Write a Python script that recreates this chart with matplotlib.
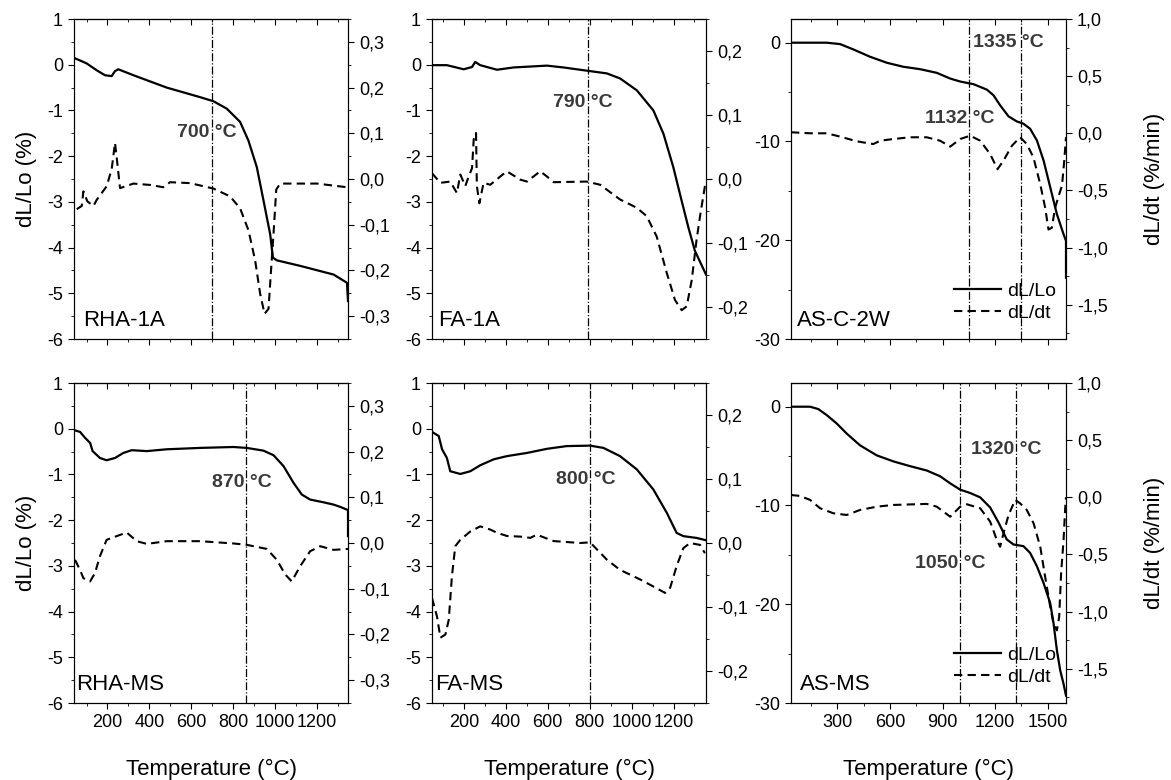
import matplotlib
matplotlib.use("Agg")
import matplotlib.pyplot as plt
from matplotlib.ticker import MultipleLocator, FuncFormatter

plt.rcParams['font.family'] = ['Liberation Sans', 'DejaVu Sans']
plt.rcParams['axes.unicode_minus'] = False

# ---- RHA-1A ----
rha1a_T = [40, 100, 148, 188, 220, 236, 252, 324, 483, 643, 707, 770, 834, 874, 914,
           946, 978, 991, 1010, 1121, 1281, 1345, 1350]
rha1a_dL = [0.15, 0.03, -0.12, -0.23, -0.25, -0.14, -0.10, -0.23, -0.50, -0.71, -0.80, -0.96,
            -1.25, -1.66, -2.24, -2.97, -3.71, -4.22, -4.28, -4.40, -4.59, -4.77, -5.17]
rha1a_Tr = [53, 77, 85, 104, 133, 148, 196, 220, 236, 247, 260, 324, 404, 467, 499, 595, 707,
            786, 834, 874, 906, 930, 951, 970, 981, 994, 1007, 1026, 1201, 1345]
rha1a_rate = [-0.066, -0.059, -0.027, -0.049, -0.059, -0.046, -0.016, 0.021, 0.079, 0.035,
              -0.020, -0.010, -0.013, -0.018, -0.007, -0.009, -0.021, -0.038, -0.064, -0.112,
              -0.178, -0.251, -0.295, -0.284, -0.207, -0.119, -0.023, -0.010, -0.010, -0.018]

# ---- FA-1A ----
fa1a_T = [48, 119, 199, 239, 254, 278, 358, 437, 596, 675, 786, 882, 945, 1025, 1104, 1152,
          1199, 1239, 1271, 1302, 1355]
fa1a_dL = [-0.01, -0.01, -0.10, -0.05, 0.06, -0.01, -0.11, -0.06, -0.02, -0.06, -0.13, -0.19,
           -0.30, -0.56, -1.00, -1.51, -2.24, -2.98, -3.56, -4.07, -4.59]
fa1a_Tr = [48, 88, 135, 167, 183, 207, 223, 239, 247, 258, 262, 274, 294, 326, 374, 405, 469,
           501, 564, 596, 628, 786, 850, 945, 1025, 1072, 1120, 1168, 1207, 1239, 1263, 1287,
           1310, 1329, 1350, 1355]
fa1a_rate = [0.009, -0.006, -0.004, -0.022, 0.007, -0.011, 0.004, 0.017, 0.062, 0.072, -0.011,
             -0.038, -0.006, -0.009, 0.004, 0.012, -0.001, -0.004, 0.012, 0.004, -0.005, -0.004,
             -0.009, -0.032, -0.045, -0.058, -0.090, -0.147, -0.189, -0.205, -0.199, -0.158,
             -0.095, -0.053, -0.011, -0.006]

# ---- AS-C-2W ----
asc_T = [35, 144, 239, 315, 391, 486, 582, 677, 772, 867, 944, 1001, 1077, 1153, 1191, 1229,
         1277, 1324, 1362, 1400, 1439, 1477, 1515, 1553, 1591, 1605, 1605]
asc_dL = [0.0, 0.0, 0.0, -0.14, -0.68, -1.42, -2.03, -2.44, -2.68, -3.05, -3.63, -3.93, -4.20,
          -4.75, -5.32, -6.34, -7.46, -7.97, -8.20, -8.71, -9.90, -11.93, -14.64, -17.36,
          -19.39, -20.07, -23.8]
asc_Tr = [35, 144, 239, 315, 410, 467, 505, 544, 620, 715, 810, 886, 944, 1001, 1058, 1115,
          1172, 1214, 1248, 1296, 1343, 1381, 1419, 1458, 1486, 1505, 1524, 1543, 1566, 1582,
          1595, 1605]
asc_rate = [0.009, 0.0, 0.0, -0.029, -0.070, -0.085, -0.094, -0.065, -0.050, -0.035, -0.035,
            -0.065, -0.117, -0.050, -0.021, -0.065, -0.182, -0.314, -0.240, -0.109, -0.035,
            -0.094, -0.211, -0.446, -0.651, -0.842, -0.827, -0.651, -0.534, -0.460, -0.240,
            -0.035]

# ---- RHA-MS ----
rhams_T = [40, 69, 93, 117, 129, 164, 196, 236, 276, 316, 388, 483, 643, 802, 866, 946, 994,
           1042, 1089, 1129, 1169, 1233, 1281, 1313, 1350, 1350]
rhams_dL = [-0.03, -0.07, -0.20, -0.31, -0.49, -0.64, -0.69, -0.64, -0.53, -0.47, -0.49, -0.45,
            -0.42, -0.40, -0.42, -0.48, -0.58, -0.82, -1.18, -1.44, -1.55, -1.61, -1.66, -1.71,
            -1.78, -2.35]
rhams_Tr = [45, 69, 85, 117, 140, 164, 196, 244, 292, 340, 388, 483, 643, 802, 866, 962, 1010,
            1050, 1081, 1121, 1169, 1217, 1281, 1350]
rhams_rate = [-0.037, -0.059, -0.077, -0.084, -0.066, -0.029, 0.007, 0.015, 0.023, 0.004,
              -0.002, 0.004, 0.004, -0.001, -0.004, -0.013, -0.037, -0.069, -0.084, -0.051,
              -0.018, -0.007, -0.015, -0.013]

# ---- FA-MS ----
fams_T = [48, 80, 96, 119, 135, 183, 231, 278, 342, 405, 501, 596, 691, 802, 866, 945, 1025,
          1104, 1168, 1215, 1247, 1311, 1355]
fams_dL = [-0.07, -0.16, -0.45, -0.64, -0.93, -0.99, -0.93, -0.80, -0.67, -0.60, -0.53, -0.44,
           -0.38, -0.37, -0.42, -0.60, -0.89, -1.33, -1.84, -2.28, -2.35, -2.39, -2.44]
fams_Tr = [48, 72, 88, 112, 128, 143, 159, 183, 231, 278, 326, 358, 405, 469, 517, 548, 628,
           755, 802, 882, 945, 1041, 1104, 1160, 1184, 1215, 1247, 1279, 1327, 1350]
fams_rate = [-0.086, -0.115, -0.148, -0.143, -0.120, -0.052, -0.005, 0.005, 0.018, 0.026,
             0.021, 0.016, 0.011, 0.010, 0.008, 0.013, 0.003, 0.0, 0.001, -0.026, -0.042,
             -0.057, -0.068, -0.078, -0.070, -0.036, -0.008, 0.0, -0.003, -0.016]

# ---- AS-MS ----
asms_T = [35, 144, 191, 239, 296, 353, 429, 525, 620, 715, 810, 886, 944, 1001, 1058, 1115,
          1172, 1220, 1267, 1305, 1362, 1400, 1439, 1477, 1515, 1534, 1553, 1572, 1591, 1605]
asms_dL = [0.0, 0.0, -0.24, -0.85, -1.70, -2.72, -3.91, -4.93, -5.54, -6.02, -6.46, -7.04,
           -7.76, -8.40, -8.74, -9.18, -10.2, -11.73, -13.44, -13.95, -14.12, -14.80, -16.16,
           -17.86, -19.90, -21.94, -24.66, -26.70, -28.06, -29.25]
asms_Tr = [35, 86, 144, 201, 277, 353, 429, 525, 620, 810, 867, 944, 1001, 1039, 1115, 1172,
           1210, 1229, 1248, 1277, 1315, 1343, 1381, 1420, 1458, 1486, 1515, 1534, 1553, 1566,
           1577, 1591, 1601, 1605]
asms_rate = [0.020, 0.012, -0.023, -0.096, -0.140, -0.155, -0.111, -0.082, -0.067, -0.058,
             -0.082, -0.170, -0.082, -0.061, -0.096, -0.213, -0.374, -0.433, -0.316, -0.155,
             -0.023, -0.053, -0.111, -0.228, -0.433, -0.696, -0.959, -1.105, -1.164, -1.047,
             -0.667, -0.374, -0.082, 0.0]

names = ['RHA-1A', 'FA-1A', 'AS-C-2W', 'RHA-MS', 'FA-MS', 'AS-MS']
vlines = [[700], [790], [1052, 1347], [863], [802], [1001, 1321]]
notes = [[('700 °C', 676, -1.48)], [('790 °C', 767, -0.82)],
         [('1335 °C', 1275, 0.0), ('1132 °C', 1001, -7.7)],
         [('870 °C', 844, -1.17)], [('800 °C', 781, -1.12)],
         [('1320 °C', 1264, -4.3), ('1050 °C', 944, -15.9)]]

data = [(rha1a_T, rha1a_dL, rha1a_Tr, rha1a_rate), (fa1a_T, fa1a_dL, fa1a_Tr, fa1a_rate),
        (asc_T, asc_dL, asc_Tr, asc_rate), (rhams_T, rhams_dL, rhams_Tr, rhams_rate),
        (fams_T, fams_dL, fams_Tr, fams_rate), (asms_T, asms_dL, asms_Tr, asms_rate)]

# layout (pixels) and axis settings per column
lefts = [74, 432, 791]
widths = [274, 274, 275]
tops = [19, 383]
H = 320
xlims = [(40, 1350), (48, 1355), (35, 1605)]
xmaj = [200, 200, 300]
ylims = [(-6, 1), (-6, 1), (-30, 2.4)]
ymaj = [1, 1, 10]
rlims = [(-0.35, 0.35), (-0.25, 0.25), (-1.8, 1.0)]
rmaj = [0.1, 0.1, 0.5]
label_x = [0.033, 0.022, 0.022, 0.007, 0.011, 0.033]

comma = FuncFormatter(lambda v, p: ('%.1f' % v).replace('.', ',').replace('-0,0', '0,0'))

fig = plt.figure(figsize=(11.71, 7.80), dpi=100)
W, Hf = 1171, 780

for i in range(6):
    r, c = divmod(i, 3)
    ax = fig.add_axes([lefts[c] / W, 1 - (tops[r] + H) / Hf, widths[c] / W, H / Hf])
    ax2 = ax.twinx()
    T, dL, Tr, rate = data[i]
    l1, = ax.plot(T, dL, color='black', lw=1.6)
    l2, = ax2.plot(Tr, rate, color='black', lw=1.5, dashes=(4, 2.5))
    for v in vlines[i]:
        ax.axvline(v, color='black', lw=0.9, ls='-.')
    for txt, tx, ty in notes[i]:
        ax.text(tx, ty, txt, ha='center', va='center', fontsize=14, fontweight='bold',
                color='#3a3a3a')
    ax.text(label_x[i], 0.025, names[i], transform=ax.transAxes, fontsize=16, va='bottom')

    ax.set_xlim(*xlims[c])
    ax.set_ylim(*ylims[c])
    ax2.set_ylim(*rlims[c])
    ax.xaxis.set_major_locator(MultipleLocator(xmaj[c]))
    ax.xaxis.set_minor_locator(MultipleLocator(xmaj[c] / 2))
    ax.yaxis.set_major_locator(MultipleLocator(ymaj[c]))
    ax.yaxis.set_minor_locator(MultipleLocator(ymaj[c] / 2))
    ax2.yaxis.set_major_locator(MultipleLocator(rmaj[c]))
    ax2.yaxis.set_minor_locator(MultipleLocator(rmaj[c] / 2))
    ax2.yaxis.set_major_formatter(comma)

    ax.tick_params(which='both', direction='out', labelsize=13, top=False)
    ax.tick_params(which='major', length=4.5)
    ax.tick_params(which='minor', length=2.5)
    ax2.tick_params(which='both', direction='out', labelsize=13)
    ax2.tick_params(which='major', length=4.5)
    ax2.tick_params(which='minor', length=2.5)
    top = ax.secondary_xaxis('top')
    top.xaxis.set_major_locator(MultipleLocator(xmaj[c]))
    top.xaxis.set_minor_locator(MultipleLocator(xmaj[c] / 2))
    top.tick_params(which='both', direction='in', labeltop=False)
    top.tick_params(which='major', length=4.5)
    top.tick_params(which='minor', length=2.5)

    if r == 0:
        ax.tick_params(labelbottom=False)
    else:
        ax.set_xlabel('Temperature (°C)', fontsize=16, labelpad=20)
    if c == 0:
        ax.set_ylabel('dL/Lo (%)', fontsize=16, labelpad=7)
    if c == 2:
        ax2.set_ylabel('dL/dt (%/min)', fontsize=16, labelpad=26)
        ax.legend([l1, l2], ['dL/Lo', 'dL/dt'], loc='lower left', bbox_to_anchor=(0.53, 0.0),
                  frameon=False, fontsize=14, handlelength=2.4, labelspacing=0.2,
                  handletextpad=0.3)

fig.savefig('out.png', dpi=100)
